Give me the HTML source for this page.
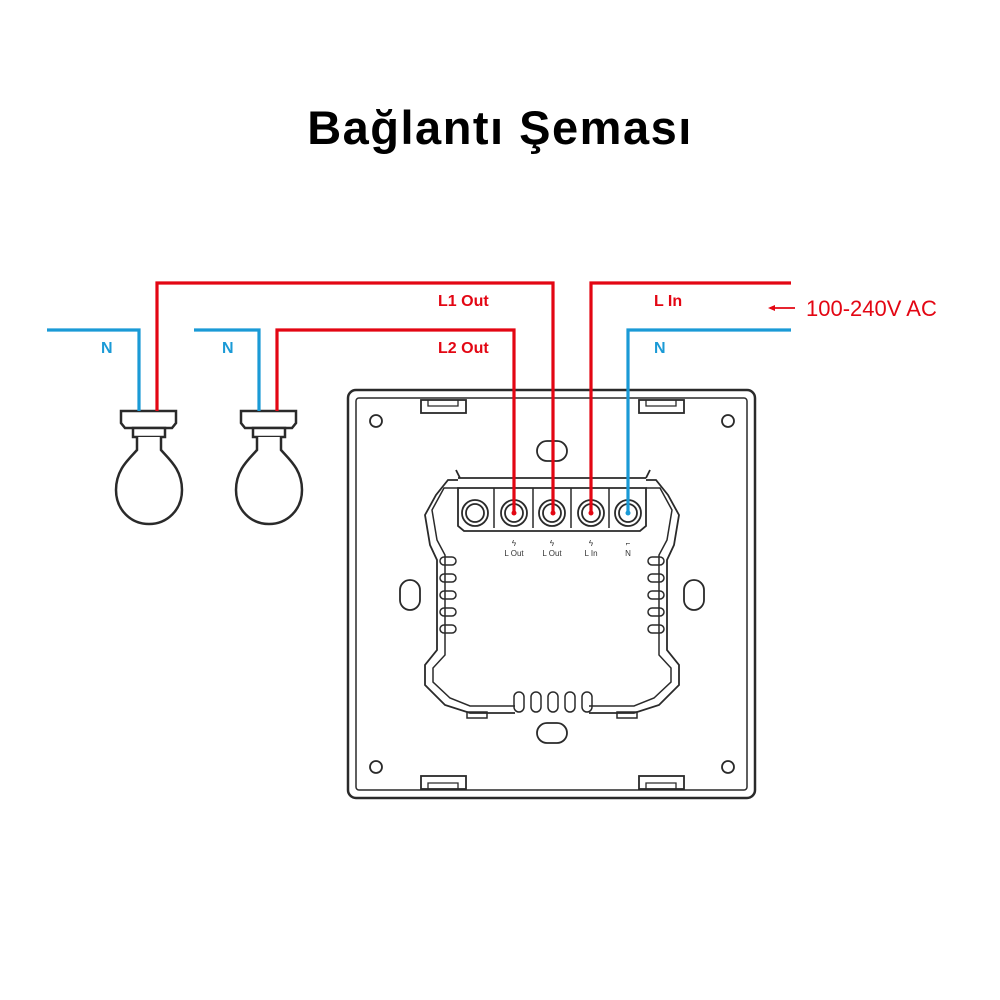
<!DOCTYPE html>
<html><head><meta charset="utf-8"><style>
html,body{margin:0;padding:0;background:#fff;}
svg{display:block}
</style></head><body>
<svg width="1000" height="1000" viewBox="0 0 1000 1000" xmlns="http://www.w3.org/2000/svg">
<text x="500" y="144" text-anchor="middle" font-family="Liberation Sans, sans-serif" font-weight="bold" font-size="47" letter-spacing="1.5" fill="#000">Bağlantı Şeması</text>

<!-- plate -->
<g fill="none" stroke="#2a2a2a" stroke-width="2.5">
<rect x="348" y="390" width="407" height="408" rx="8"/>
<rect x="356" y="398" width="391" height="392" rx="3" stroke-width="1.5"/>
<circle cx="376" cy="421" r="6" stroke-width="1.8"/>
<circle cx="728" cy="421" r="6" stroke-width="1.8"/>
<circle cx="376" cy="767" r="6" stroke-width="1.8"/>
<circle cx="728" cy="767" r="6" stroke-width="1.8"/>
<rect x="421" y="400" width="45" height="13" stroke-width="1.8"/>
<rect x="639" y="400" width="45" height="13" stroke-width="1.8"/>
<rect x="421" y="776" width="45" height="13" stroke-width="1.8"/>
<rect x="639" y="776" width="45" height="13" stroke-width="1.8"/>
<path d="M428 400 V406 H458 V400 M646 400 V406 H676 V400 M428 789 V783 H458 V789 M646 789 V783 H676 V789" stroke-width="1.3"/>
<rect x="537" y="441" width="30" height="20" rx="10" stroke-width="1.8"/>
<rect x="537" y="723" width="30" height="20" rx="10" stroke-width="1.8"/>
<rect x="400" y="580" width="20" height="30" rx="10" stroke-width="1.8"/>
<rect x="684" y="580" width="20" height="30" rx="10" stroke-width="1.8"/>
<!-- housing outline -->
<path d="M460 478 L456 470 M646 478 L650 470 M458 480 L448 480 L436 495 L425 515 L430 545 L437 560 L437 650 L425 665 L425 685 L445 705 L470 713 L515 713 M589 713 L634 713 L659 705 L679 685 L679 665 L667 650 L667 560 L674 545 L679 515 L668 495 L656 480 L646 480" stroke-width="1.8"/>
<path d="M460 488 L444 488 L432 510 L437 540 L445 555 L445 655 L433 668 L433 682 L450 698 L470 706 L515 706 M589 706 L634 706 L654 698 L671 682 L671 668 L659 655 L659 555 L667 540 L672 510 L660 488 L646 488" stroke-width="1.5"/>
<rect x="467" y="712" width="20" height="6" stroke-width="1.5"/>
<rect x="617" y="712" width="20" height="6" stroke-width="1.5"/>
<g stroke-width="1.5">
<rect x="514" y="692" width="10" height="20" rx="5"/><rect x="531" y="692" width="10" height="20" rx="5"/><rect x="548" y="692" width="10" height="20" rx="5"/><rect x="565" y="692" width="10" height="20" rx="5"/><rect x="582" y="692" width="10" height="20" rx="5"/>
<rect x="440" y="557" width="16" height="8" rx="4"/><rect x="440" y="574" width="16" height="8" rx="4"/><rect x="440" y="591" width="16" height="8" rx="4"/><rect x="440" y="608" width="16" height="8" rx="4"/><rect x="440" y="625" width="16" height="8" rx="4"/>
<rect x="648" y="557" width="16" height="8" rx="4"/><rect x="648" y="574" width="16" height="8" rx="4"/><rect x="648" y="591" width="16" height="8" rx="4"/><rect x="648" y="608" width="16" height="8" rx="4"/><rect x="648" y="625" width="16" height="8" rx="4"/>
</g>
<!-- terminal block -->
<path d="M458 478 L646 478 M458 488 L646 488 L646 526 L640 531 L464 531 L458 526 Z" stroke-width="1.8"/>
<path d="M494 488 V528 M533 488 V528 M571 488 V528 M609 488 V528" stroke-width="1.5"/>
<g stroke-width="1.8">
<circle cx="475" cy="513" r="13"/><circle cx="475" cy="513" r="9"/>
<circle cx="514" cy="513" r="13"/><circle cx="514" cy="513" r="9"/>
<circle cx="552" cy="513" r="13"/><circle cx="552" cy="513" r="9"/>
<circle cx="591" cy="513" r="13"/><circle cx="591" cy="513" r="9"/>
<circle cx="628" cy="513" r="13"/><circle cx="628" cy="513" r="9"/>
</g>
</g>
<g font-family="Liberation Sans, sans-serif" font-size="8" fill="#333" text-anchor="middle">
<text x="514" y="546">ϟ</text><text x="514" y="556">L Out</text>
<text x="552" y="546">ϟ</text><text x="552" y="556">L Out</text>
<text x="591" y="546">ϟ</text><text x="591" y="556">L In</text>
<text x="628" y="546">⌐</text><text x="628" y="556">N</text>
</g>

<!-- bulbs -->
<g fill="#fff" stroke="#2a2a2a" stroke-width="2.5">
<g>
<path d="M121 411 L176 411 L176 423 L172 428 L125 428 L121 423 Z"/>
<rect x="133" y="428" width="32" height="9"/>
<path d="M137 437 L137 450 C128 460 116 470 116 490 C116 510 131 524 149 524 C167 524 182 510 182 490 C182 470 170 460 161 450 L161 437"/>
</g>
<g transform="translate(120,0)">
<path d="M121 411 L176 411 L176 423 L172 428 L125 428 L121 423 Z"/>
<rect x="133" y="428" width="32" height="9"/>
<path d="M137 437 L137 450 C128 460 116 470 116 490 C116 510 131 524 149 524 C167 524 182 510 182 490 C182 470 170 460 161 450 L161 437"/>
</g>
</g>

<!-- wires -->
<g fill="none" stroke-width="3.2">
<path d="M157 411 V283 H553 V513" stroke="#e30613"/>
<path d="M277 411 V330 H514 V513" stroke="#e30613"/>
<path d="M591 513 V283 H791" stroke="#e30613"/>
<path d="M47 330 H139 V411" stroke="#1a9ad6"/>
<path d="M194 330 H259 V411" stroke="#1a9ad6"/>
<path d="M628 513 V330 H791" stroke="#1a9ad6"/>
</g>
<circle cx="514" cy="513" r="2.5" fill="#e30613"/><circle cx="553" cy="513" r="2.5" fill="#e30613"/><circle cx="591" cy="513" r="2.5" fill="#e30613"/><circle cx="628" cy="513" r="2.5" fill="#1a9ad6"/>

<g font-family="Liberation Sans, sans-serif" font-weight="bold" font-size="16">
<text x="438" y="306" fill="#e30613">L1 Out</text>
<text x="438" y="353" fill="#e30613">L2 Out</text>
<text x="654" y="306" fill="#e30613">L In</text>
<text x="654" y="353" fill="#1a9ad6">N</text>
<text x="101" y="353" fill="#1a9ad6">N</text>
<text x="222" y="353" fill="#1a9ad6">N</text>
</g>
<path d="M770 308 H795" stroke="#e30613" stroke-width="1.8"/>
<path d="M768 308 L775 305 L775 311 Z" fill="#e30613"/>
<text x="806" y="316" font-family="Liberation Sans, sans-serif" font-size="22" fill="#e30613">100-240V AC</text>
</svg>
</body></html>
